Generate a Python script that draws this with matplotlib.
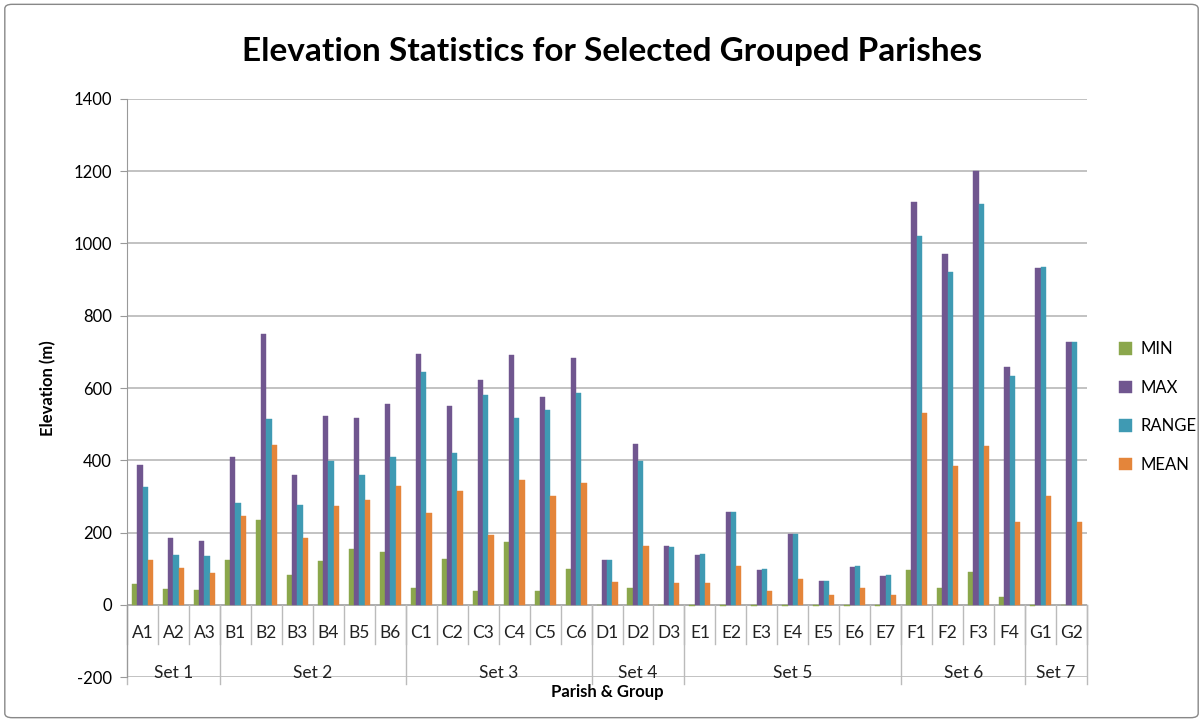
import numpy as np
import matplotlib.pyplot as plt
from matplotlib.patches import FancyBboxPatch

plt.rcParams['font.family'] = ['Lato', 'DejaVu Sans']
plt.rcParams['axes.unicode_minus'] = False

# parish codes and their groups
parishes = ["A1", "A2", "A3", "B1", "B2", "B3", "B4", "B5", "B6",
            "C1", "C2", "C3", "C4", "C5", "C6", "D1", "D2", "D3",
            "E1", "E2", "E3", "E4", "E5", "E6", "E7",
            "F1", "F2", "F3", "F4", "G1", "G2"]
sets = ["Set 1", "Set 2", "Set 3", "Set 4", "Set 5", "Set 6", "Set 7"]
set_sizes = [3, 6, 6, 3, 7, 4, 2]

# elevation statistics (m)
min_vals = [57, 43, 41, 123, 234, 82, 120, 155, 147,
            46, 128, 39, 174, 39, 99, 0, 46, 0,
            -3, -3, -3, -3, -3, -3, -3,
            95, 46, 92, 22, -3, 0]
max_vals = [386, 185, 177, 408, 750, 360, 522, 516, 557,
            693, 549, 622, 691, 576, 682, 125, 446, 163,
            139, 256, 95, 195, 66, 104, 79,
            1116, 971, 1202, 658, 933, 726]
range_vals = [326, 138, 134, 283, 514, 275, 398, 360, 408,
              645, 421, 582, 516, 539, 586, 125, 397, 160,
              141, 258, 98, 196, 67, 106, 82,
              1020, 922, 1110, 634, 936, 726]
mean_vals = [125, 101, 88, 245, 441, 185, 272, 289, 329,
             254, 315, 193, 346, 300, 337, 63, 163, 60,
             61, 107, 39, 71, 28, 46, 28,
             530, 384, 439, 229, 302, 229]

series = [("MIN", min_vals, "#8BA74C"),
          ("MAX", max_vals, "#70568F"),
          ("RANGE", range_vals, "#3F9AB3"),
          ("MEAN", mean_vals, "#E4853A")]

fig = plt.figure(figsize=(12.03, 7.22), dpi=100)
ax = fig.add_axes([0.1056, 0.0623, 0.7980, 0.8006])

x = np.arange(len(parishes))
w = 0.17
for i, (name, vals, col) in enumerate(series):
    ax.bar(x + (i - 1.5) * w, vals, w, color=col, label=name, zorder=3,
           edgecolor=col, linewidth=0.3)

n = len(parishes)
ax.set_xlim(-0.5, n - 0.5)
ax.set_ylim(-200, 1400)
ax.set_yticks(range(-200, 1401, 200))
ax.tick_params(axis='y', labelsize=12, length=5, color='#999999', pad=6)
ax.set_xticks([])
ax.grid(axis='y', color='#B8B8B8', linewidth=1.2, zorder=0)
for s in ['top', 'right', 'bottom']:
    ax.spines[s].set_visible(False)
ax.spines['left'].set_color('#999999')
ax.axhline(0, color='#AAAAAA', linewidth=1.2, zorder=2)

# category labels and separators
for i, p in enumerate(parishes):
    ax.text(i, -77, p, ha='center', va='center', fontsize=12.5, color='#222222')
for b in range(n + 1):
    ax.plot([b - 0.5, b - 0.5], [0, -108], color='#BBBBBB', lw=1, clip_on=False)

# group labels and separators
edges = np.concatenate([[0], np.cumsum(set_sizes)]) - 0.5
for j, s in enumerate(sets):
    mid = (edges[j] + edges[j + 1]) / 2
    ax.text(mid, -188, s, ha='center', va='center', fontsize=12.5, color='#222222')
for e in edges:
    ax.plot([e, e], [0, -220], color='#BBBBBB', lw=1, clip_on=False)

ax.set_ylabel("Elevation (m)", fontsize=12, fontweight='bold', labelpad=12)
fig.text(0.505, 0.042, "Parish & Group", ha='center', va='center',
         fontsize=12, fontweight='bold')
fig.text(0.509, 0.928, "Elevation Statistics for Selected Grouped Parishes",
         ha='center', va='center', fontsize=24, fontweight='bold')

fig.legend(loc='upper left', bbox_to_anchor=(0.918, 0.548), frameon=False,
           fontsize=12, handlelength=0.75, handleheight=0.75,
           labelspacing=1.35, handletextpad=0.5)

border = FancyBboxPatch((0.004, 0.006), 0.992, 0.988, boxstyle="round,pad=0,rounding_size=0.006",
                        transform=fig.transFigure, fill=False, edgecolor='#888888', lw=1)
fig.patches.append(border)

fig.savefig("out.png", dpi=100)
